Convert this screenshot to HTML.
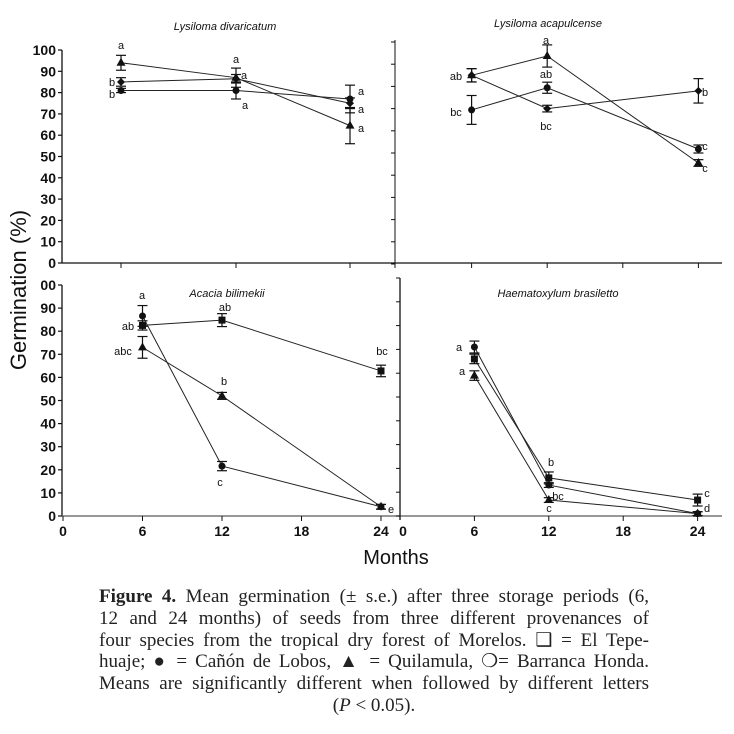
<!DOCTYPE html>
<html><head><meta charset="utf-8"><style>
body{margin:0;background:#fff;width:734px;height:734px;overflow:hidden;position:relative}
svg{position:absolute;left:0;top:0}
.cap{position:absolute;left:99px;top:586px;width:550px;font-family:"Liberation Serif",serif;font-size:19px;line-height:21.8px;color:#222}
.cap div{text-align:justify;text-align-last:justify;white-space:nowrap}
.cap div.c{text-align:center;text-align-last:center}
</style></head><body>
<svg id="chart" width="734" height="734" font-family="Liberation Sans, sans-serif"></svg>
<div class="cap">
<div><b>Figure 4.</b> Mean germination (± s.e.) after three storage periods (6,</div>
<div>12 and 24 months) of seeds from three different provenances of</div>
<div>four species from the tropical dry forest of Morelos. ❑ = El Tepe-</div>
<div>huaje; ● = Cañón de Lobos, ▲ = Quilamula, ❍= Barranca Honda.</div>
<div>Means are significantly different when followed by different letters</div>
<div class="c">(<i>P</i> &lt; 0.05).</div>
</div>
<script>
const months=[6,12,24];
// Lysiloma divaricatum
const ldTri=[94,87,64.5], ldTriErr=[3.5,4.5,8.5];
const ldDia=[85,86.5,75], ldDiaErr=[2,2,2.5];
const ldCir=[81,81,77], ldCirErr=[1,4,6.5];
// Lysiloma acapulcense
const laTri=[85,93.7,45.5], laTriErr=[3,5,1.5];
const laCir=[69.4,79.4,51.8], laCirErr=[6.5,2.5,1.8];
const laDia=[85,70,78], laDiaErr=[3,1.5,5.5];
// Acacia bilimekii
const abCir=[86.6,21.6,4], abCirErr=[4.5,2,1];
const abSq=[82.5,84.8,62.8], abSqErr=[2,2.8,2.5];
const abTri=[73,52,4], abTriErr=[4.7,1.5,1];
// Haematoxylum brasiletto
const hbCir=[71,13,1], hbCirErr=[2.5,1,0.8];
const hbSq=[66,16,6.7], hbSqErr=[2,2.5,2.5];
const hbTri=[59,6.7,1], hbTriErr=[2,1,0.8];
const yTicks=[0,10,20,30,40,50,60,70,80,90,100];
const yTickLabelsTop=["0","10","20","30","40","50","60","70","80","90","100"];
const yTickLabelsBot=["0","10","20","30","40","50","60","70","80","90","00"];
const xTicks=[0,6,12,18,24];

const S=document.getElementById('chart');
const NS='http://www.w3.org/2000/svg';
function mk(t,a,p){const e=document.createElementNS(NS,t);for(const k in a)e.setAttribute(k,a[k]);(p||S).appendChild(e);return e;}
function line(x1,y1,x2,y2,w,c){return mk('line',{x1,y1,x2,y2,stroke:c||'#111','stroke-width':w||1});}
function txt(x,y,s,o){const e=mk('text',Object.assign({x,y,'font-size':11,fill:'#111'},o||{}));e.textContent=s;return e;}

const P={
 ld:{x:v=>({6:121,12:236,24:350})[v],y:v=>263-2.13*v},
 la:{x:v=>396+12.6*v,y:v=>264-2.22*v},
 ab:{x:v=>63+13.25*v,y:v=>516-2.31*v},
 hb:{x:v=>400+12.4*v,y:v=>516-2.38*v}
};
function marker(kind,x,y,g){
 if(kind==='tri')return mk('polygon',{points:`${x},${y-5} ${x-4.5},${y+3} ${x+4.5},${y+3}`,fill:'#111'},g);
 if(kind==='sq')return mk('rect',{x:x-3.5,y:y-3.5,width:7,height:7,fill:'#111'},g);
 if(kind==='dia')return mk('polygon',{points:`${x},${y-4} ${x+4},${y} ${x},${y+4} ${x-4},${y}`,fill:'#111'},g);
 return mk('circle',{cx:x,cy:y,r:3.5,fill:'#111'},g);
}
function series(p,vals,errs,kind,name){
 const sc=P[p];
 const g=mk('g',{});
 
 
 const pts=months.map((m,i)=>sc.x(m)+','+sc.y(vals[i])).join(' ');
 mk('polyline',{points:pts,fill:'none',stroke:'#222','stroke-width':1},g);
 months.forEach((m,i)=>{
  const x=sc.x(m),y1=sc.y(vals[i]+errs[i]),y2=sc.y(vals[i]-errs[i]);
  mk('line',{x1:x,y1:y1,x2:x,y2:y2,stroke:'#111','stroke-width':1.2},g);
  mk('line',{x1:x-5,y1:y1,x2:x+5,y2:y1,stroke:'#111','stroke-width':1.2},g);
  mk('line',{x1:x-5,y1:y2,x2:x+5,y2:y2,stroke:'#111','stroke-width':1.2},g);
  const mkr=marker(kind,x,sc.y(vals[i]),g);
  
  
 });
}
line(62,50,62,263,1.3);
line(62,263,722,263,1.3);
line(395,40,395,268,1);
line(62,285,62,516,1.3);
line(62,516,722,516,1.5,'#777');
line(400,278,400,520,1.3);
yTicks.forEach((t,i)=>{
 let y=P.ld.y(t);line(58,y,62,y,1.2);
 let l=txt(56,y+5,yTickLabelsTop[i],{'font-size':14,'font-weight':'bold','text-anchor':'end'});
 
 y=P.la.y(t);line(391,y,395,y,1);
 y=P.ab.y(t);line(58,y,62,y,1.2);
 l=txt(56,y+5,yTickLabelsBot[i],{'font-size':14,'font-weight':'bold','text-anchor':'end'});
 
 y=P.hb.y(t);line(396,y,400,y,1);
});
[121,236,350].forEach(x=>line(x,263,x,268,1));
xTicks.slice(1).forEach(t=>line(P.la.x(t),263,P.la.x(t),268,1));
xTicks.forEach(t=>{
 let x=P.ab.x(t);line(x,516,x,521,1);
 let l=txt(x,536,String(t),{'font-size':14,'font-weight':'bold','text-anchor':'middle'});
 
 if(t>0){x=P.hb.x(t);line(x,516,x,521,1);}
 l=txt(t===0?403:P.hb.x(t),536,String(t),{'font-size':14,'font-weight':'bold','text-anchor':'middle'});
 
});
[[225,30,'Lysiloma divaricatum','title-lysiloma-divaricatum'],[548,27,'Lysiloma acapulcense','title-lysiloma-acapulcense'],[227,297,'Acacia bilimekii','title-acacia-bilimekii'],[558,297,'Haematoxylum brasiletto','title-haematoxylum-brasiletto']].forEach(a=>{
 const t=txt(a[0],a[1],a[2],{'font-size':11,'font-style':'italic','text-anchor':'middle'});
 
});
const yt=txt(0,0,'Germination (%)',{'font-size':22,'text-anchor':'middle',transform:'translate(26,290) rotate(-90)'});

const xt=txt(396,564,'Months',{'font-size':20,'text-anchor':'middle'});


series('ld',ldTri,ldTriErr,'tri','ld-quilamula');
series('ld',ldDia,ldDiaErr,'dia','ld-tepehuaje');
series('ld',ldCir,ldCirErr,'cir','ld-canon-lobos');
series('la',laTri,laTriErr,'tri','la-quilamula');
series('la',laCir,laCirErr,'cir','la-canon-lobos');
series('la',laDia,laDiaErr,'dia','la-tepehuaje');
series('ab',abCir,abCirErr,'cir','ab-canon-lobos');
series('ab',abSq,abSqErr,'sq','ab-tepehuaje');
series('ab',abTri,abTriErr,'tri','ab-quilamula');
series('hb',hbCir,hbCirErr,'cir','hb-canon-lobos');
series('hb',hbSq,hbSqErr,'sq','hb-tepehuaje');
series('hb',hbTri,hbTriErr,'tri','hb-quilamula');

[[121,49,'a'],[112,86,'b'],[112,98,'b'],[236,63,'a'],[244,79,'a'],[245,109,'a'],[361,95,'a'],[361,113,'a'],[361,132,'a'],
 [546,44,'a'],[546,78,'ab'],[546,130,'bc'],[456,80,'ab'],[456,116,'bc'],[705,96,'b'],[705,150,'c'],[705,172,'c'],
 [142,299,'a'],[128,330,'ab'],[123,355,'abc'],[225,311,'ab'],[224,385,'b'],[220,486,'c'],[382,355,'bc'],[391,513,'e'],
 [459,351,'a'],[462,375,'a'],[551,466,'b'],[558,500,'bc'],[549,512,'c'],[707,497,'c'],[707,512,'d']
].forEach(a=>{const t=txt(a[0],a[1],a[2],{'font-size':11,'text-anchor':'middle'});
 });
</script>
</body></html>
